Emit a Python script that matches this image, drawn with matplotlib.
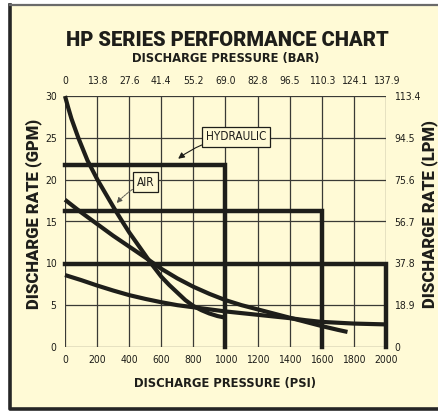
import matplotlib.pyplot as plt
from matplotlib.patches import Rectangle
from matplotlib.lines import Line2D

# chart data
psi_ticks = [0, 200, 400, 600, 800, 1000, 1200, 1400, 1600, 1800, 2000]
bar_labels = ['0', '13.8', '27.6', '41.4', '55.2', '69.0', '82.8', '96.5', '110.3', '124.1', '137.9']
gpm_ticks = [0, 5, 10, 15, 20, 25, 30]
lpm_labels = ['0', '18.9', '37.8', '56.7', '75.6', '94.5', '113.4']

# max-flow / max-pressure envelopes (psi corner, gpm)
limit_psi = [1000, 1600, 2000]
limit_gpm = [21.8, 16.3, 9.9]

# performance curves
steep_psi = [0, 20, 40, 83, 140, 202, 260, 315, 357, 400, 470, 536, 600, 650, 700,
             750, 800, 850, 900, 950, 1000]
steep_gpm = [30, 28.6, 27.3, 25, 22.3, 20, 18.1, 16.3, 15, 13.7, 11.8, 10, 8.4, 7.4, 6.5,
             5.6, 4.9, 4.4, 4.0, 3.7, 3.5]
mid_psi = [0, 100, 200, 300, 400, 500, 600, 700, 800, 900, 1000, 1100, 1200, 1300,
           1400, 1500, 1600, 1700, 1760]
mid_gpm = [17.6, 16.1, 14.7, 13.3, 12.0, 10.7, 9.35, 8.2, 7.2, 6.35, 5.6, 5.0, 4.5, 4.0,
           3.5, 3.0, 2.5, 2.05, 1.8]
low_psi = [0, 100, 200, 300, 400, 500, 600, 700, 800, 900, 1000, 1100, 1200, 1300,
           1400, 1500, 1600, 1700, 1800, 1900, 2000]
low_gpm = [8.6, 8.0, 7.35, 6.75, 6.2, 5.75, 5.35, 5.0, 4.75, 4.5, 4.25, 4.05, 3.85, 3.65,
           3.45, 3.2, 3.0, 2.9, 2.8, 2.75, 2.7]

cream = '#fffad6'
ink = '#1e1e1a'
cond = dict(family='DejaVu Sans', stretch='condensed')

W, H = 439, 411
fig = plt.figure(figsize=(W / 100, H / 100), dpi=100, facecolor='white')

# outer frame: cream panel, dark left/bottom edge, grey top edge
fig.patches.append(Rectangle((10 / W, 2 / H), 1.0, (H - 7) / H, transform=fig.transFigure,
                             facecolor=cream, edgecolor='none', zorder=-5))
fig.add_artist(Line2D([10.5 / W, 10.5 / W, 1.0], [1 - 5 / H, 2 / H, 2 / H],
                      transform=fig.transFigure, color='#262626', lw=2.6, zorder=-4))
fig.add_artist(Line2D([10 / W, 1.0], [1 - 5 / H, 1 - 5 / H],
                      transform=fig.transFigure, color='#6a6a6a', lw=1.6, zorder=-4))

ax = fig.add_axes([65 / W, 64 / H, 321 / W, 251 / H])
ax.set_facecolor(cream)
ax.set_xlim(0, 2000)
ax.set_ylim(0, 30)

for x in psi_ticks:
    ax.axvline(x, color='#3a3a36', lw=0.9, zorder=1)
for y in gpm_ticks:
    ax.axhline(y, color='#3a3a36', lw=0.9, zorder=1)
for s in ax.spines.values():
    s.set_visible(False)

for p, g in zip(limit_psi, limit_gpm):
    ax.plot([0, p, p], [g, g, 0], color=ink, lw=3.2, solid_joinstyle='miter', zorder=3, clip_on=False)

for xs, ys in [(steep_psi, steep_gpm), (mid_psi, mid_gpm), (low_psi, low_gpm)]:
    ax.plot(xs, ys, color=ink, lw=3.0, solid_capstyle='butt', solid_joinstyle='round',
            zorder=4, clip_on=False)

box = dict(boxstyle='square,pad=0.3', facecolor=cream, edgecolor=ink, lw=0.9)
ax.annotate('HYDRAULIC', xy=(705, 22.5), xytext=(1065, 25.1), ha='center', va='center',
            fontsize=8.5, color=ink, bbox=box, zorder=5, **cond,
            arrowprops=dict(arrowstyle='-|>', color=ink, lw=0.8, mutation_scale=9,
                            connectionstyle='arc3,rad=0.15', shrinkA=0, shrinkB=0))
ax.annotate('AIR', xy=(322, 17.2), xytext=(500, 19.7), ha='center', va='center',
            fontsize=8.5, color=ink, bbox=box, zorder=5, **cond,
            arrowprops=dict(arrowstyle='-|>', color='#55554e', lw=0.7, ls=(0, (2, 1)),
                            mutation_scale=8, connectionstyle='arc3,rad=0.1', shrinkA=0, shrinkB=0))

tick_font = dict(fontsize=7.5, color=ink, **cond)
ax.set_xticks(psi_ticks)
ax.set_xticklabels([str(v) for v in psi_ticks], **tick_font)
ax.set_yticks(gpm_ticks)
ax.set_yticklabels([str(v) for v in gpm_ticks], **tick_font)
ax.tick_params(length=0, pad=6)

top = ax.twiny()
top.set_xlim(ax.get_xlim())
top.set_xticks(psi_ticks)
top.set_xticklabels(bar_labels, **tick_font)
top.tick_params(length=0, pad=7)
right = ax.twinx()
right.set_ylim(ax.get_ylim())
right.set_yticks(gpm_ticks)
right.set_yticklabels(lpm_labels, **tick_font)
right.tick_params(length=0, pad=6)
for a in (top, right):
    for s in a.spines.values():
        s.set_visible(False)

fig.text(227 / W, 1 - 40 / H, 'HP SERIES PERFORMANCE CHART', ha='center', va='center',
         family='Roboto', fontsize=14.5, fontweight='black', color=ink)
fig.text(226 / W, 1 - 58 / H, 'DISCHARGE PRESSURE (BAR)', ha='center', va='center',
         fontsize=9.3, fontweight='bold', color=ink, **cond)
fig.text(225 / W, 1 - 383 / H, 'DISCHARGE PRESSURE (PSI)', ha='center', va='center',
         fontsize=9.3, fontweight='bold', color=ink, **cond)
fig.text(34 / W, 1 - 214 / H, 'DISCHARGE RATE (GPM)', rotation=90, ha='center', va='center',
         family='Roboto', fontsize=12, fontweight='black', color=ink)
fig.text(430 / W, 1 - 214 / H, 'DISCHARGE RATE (LPM)', rotation=90, ha='center', va='center',
         family='Roboto', fontsize=12, fontweight='black', color=ink)

fig.savefig('out.png', dpi=100, facecolor=fig.get_facecolor())
